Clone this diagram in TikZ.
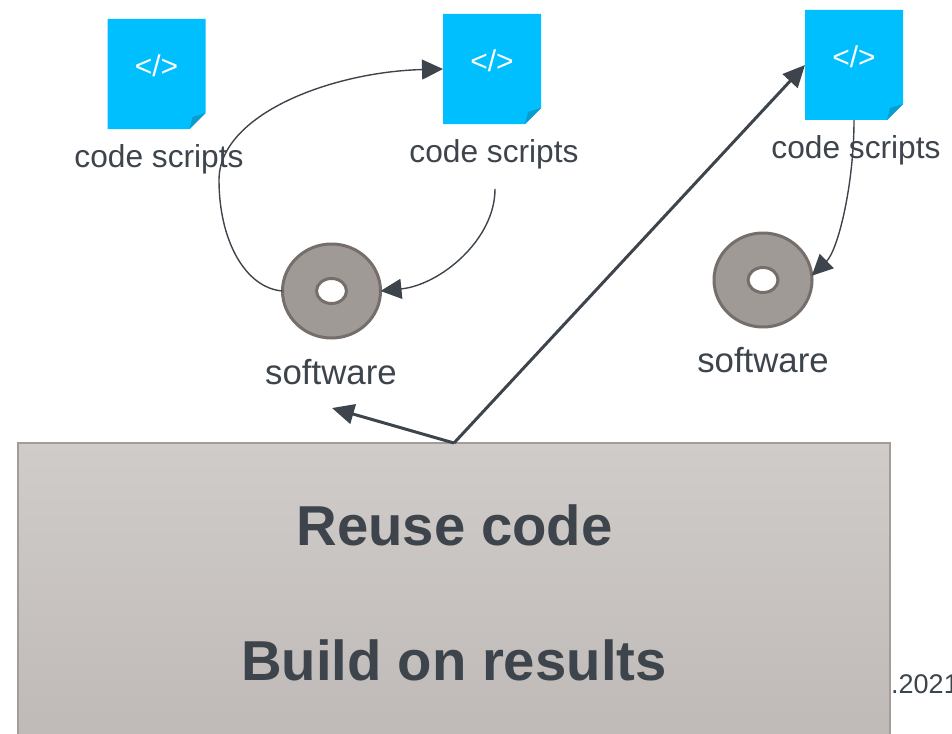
\documentclass[tikz,border=0pt]{standalone}
\usepackage{fontspec}
\setmainfont{Liberation Sans}
\usetikzlibrary{arrows.meta,calc,shapes.geometric}
\definecolor{ink}{HTML}{3E444C}
\definecolor{docblue}{HTML}{00BFFF}
\definecolor{docfold}{HTML}{0A9BD0}
\definecolor{discfill}{HTML}{A09A96}
\definecolor{discline}{HTML}{756E6B}
\definecolor{boxtop}{HTML}{D0CCC9}
\definecolor{boxbot}{HTML}{BEB9B6}
\definecolor{boxline}{HTML}{A29D99}
\tikzset{
  x=1pt,y=-1pt,
  docshape/.style={minimum width=98pt,minimum height=110pt,inner sep=0pt,outer sep=0pt},
  doctag/.style={text=white,inner sep=0pt,font=\fontsize{30}{32}\selectfont},
  lab/.style={text=ink,inner sep=0pt,font=\fontsize{31.7}{36}\selectfont},
  softlab/.style={text=ink,inner sep=0pt,font=\fontsize{34.8}{38}\selectfont},
  title/.style={text=ink,inner sep=0pt,font=\fontsize{56.3}{62}\selectfont\bfseries},
  disc/.style={ellipse,draw=discline,fill=discfill,line width=3pt,minimum width=98pt,minimum height=94pt,inner sep=0pt,outer sep=0pt},
  thin arrow/.style={draw=ink,line width=1.4pt,-{Triangle[length=21pt,width=20pt]}},
  thick arrow/.style={draw=ink,line width=3pt,-{Triangle[length=22pt,width=20pt]}},
}
\newcommand{\docicon}[3]{%
  \node[docshape] (#1) at (#2,#3) {};
  \fill[docblue] (#1.north west) -- (#1.north east) -- ($(#1.south east)+(0,-16)$) -- ($(#1.south east)+(-16,0)$) -- (#1.south west) -- cycle;
  \fill[docfold] ($(#1.south east)+(0,-16)$) -- ($(#1.south east)+(-16,0)$) -- ($(#1.south east)+(-13,-12)$) -- cycle;
  \node[doctag] (#1tag) at ($(#1.center)+(0,-8)$) {</>};
}
\newcommand{\discicon}[3]{%
  \node[disc] (#1) at (#2,#3) {};
  \draw[discline,fill=white,line width=3pt] (#2,#3) ellipse [x radius=15,y radius=12.5];
}
\begin{document}
\begin{tikzpicture}
\useasboundingbox (0,0) rectangle (952,733);
\clip (0,0) rectangle (952,733);
\docicon{docA}{156.5}{74}
\docicon{docB}{492}{69}
\docicon{docC}{854}{65}
\node[lab] (labA) at (159,159.5) {code scripts};
\node[lab] (labB) at (494,154) {code scripts};
\node[lab] (labC) at (856,150) {code scripts};
\discicon{discA}{331.5}{291}
\discicon{discB}{763}{280}
\node[softlab] (softA) at (331,372.5) {software};
\node[softlab] (softB) at (763,360.5) {software};
\node[text=ink,inner sep=0pt,anchor=base west,font=\fontsize{27}{30}\selectfont] (date) at (891,693) {.2021};
\node[draw=boxline,line width=1.5pt,top color=boxtop,bottom color=boxbot,minimum width=872pt,minimum height=310pt,inner sep=0pt,outer sep=0pt] (panel) at (454,598) {};
\node[title] (reuse) at (454.5,525) {Reuse code};
\node[title] (build) at (454,660) {Build on results};
\coordinate (softTip) at (332,408);
\draw[thin arrow] (discA.west) .. controls (245,288) and (219,240) .. (219,180) .. controls (219,115) and (330,72) .. (docB.west);
\draw[thin arrow] ($(labB.south)+(1,20)$) .. controls (495,240) and (440,285) .. (discA.east);
\draw[thin arrow] (docC.south) .. controls (854,185) and (838,250) .. (discB.5);
\draw[thick arrow] (panel.north) -- (softTip);
\draw[thick arrow] (panel.north) -- (docC.west);
\end{tikzpicture}
\end{document}
